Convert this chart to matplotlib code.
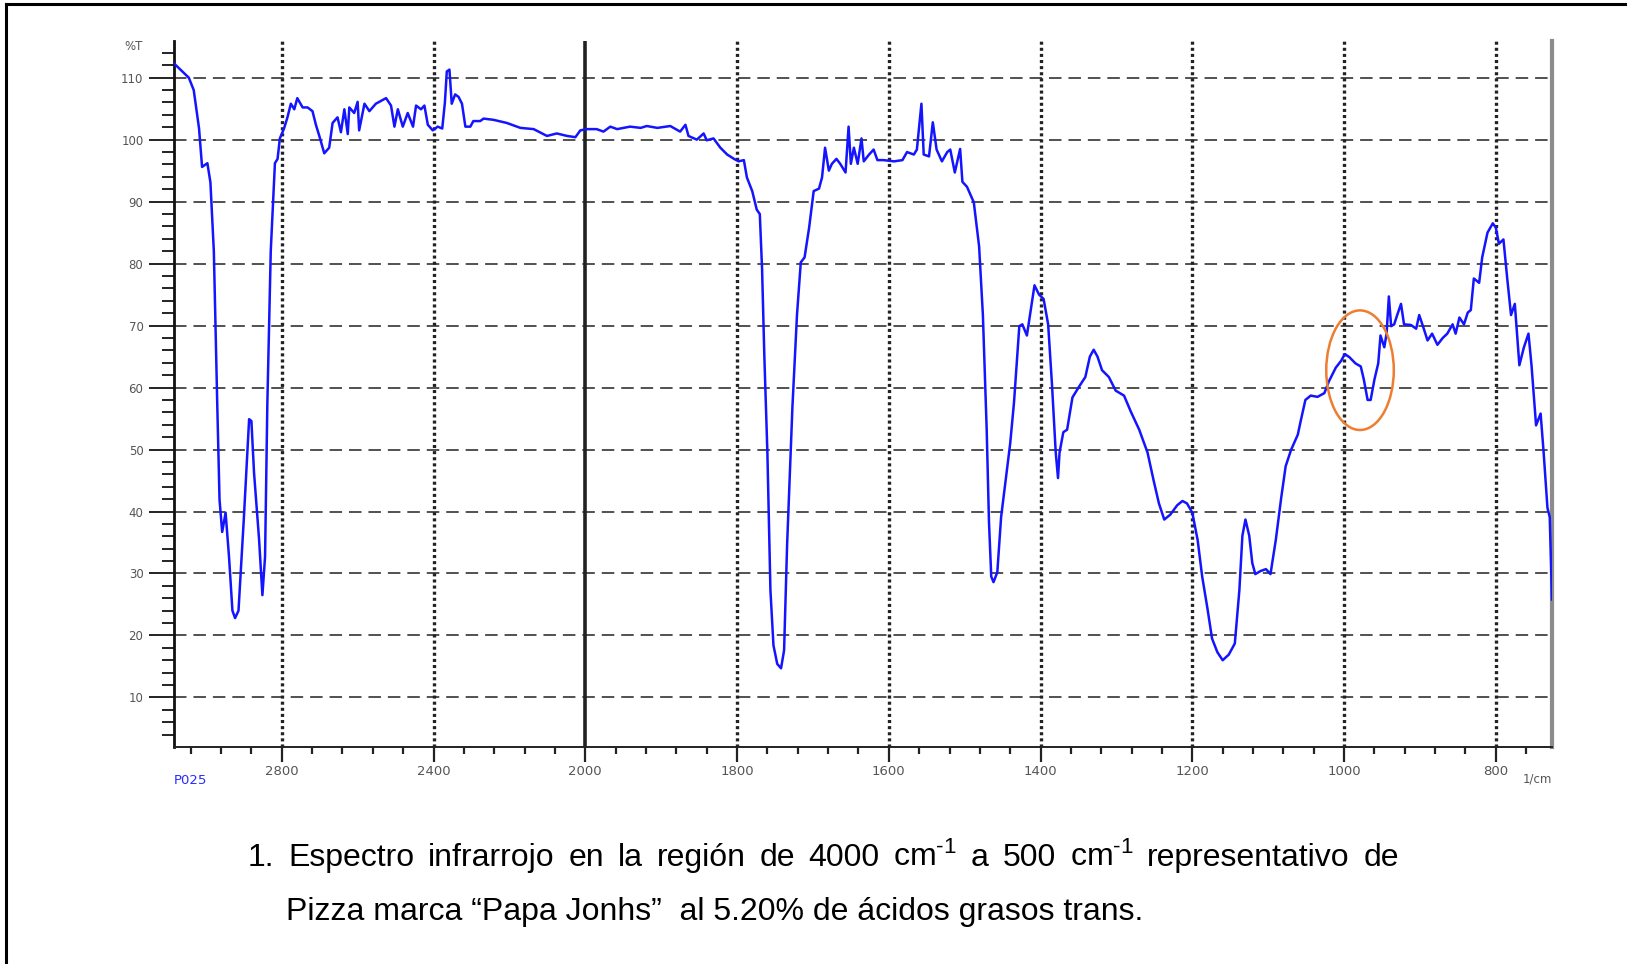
import numpy as np
import matplotlib
matplotlib.use("Agg")
import matplotlib.pyplot as plt
from matplotlib.patches import Ellipse
from matplotlib.ticker import FixedLocator, FixedFormatter
from matplotlib.lines import Line2D

plt.rcParams["lines.scale_dashes"] = False
plt.rcParams["mathtext.fontset"] = "custom"
plt.rcParams["mathtext.rm"] = "Liberation Sans"
plt.rcParams["mathtext.it"] = "Liberation Sans:italic"
plt.rcParams["mathtext.bf"] = "Liberation Sans:bold"

# IR spectrum, %T against wavenumber (1/cm)
wavenumber = [
    3084, 3045, 3032, 3018, 3010, 2996, 2988, 2979, 2970, 2964, 2957, 2948, 2939, 2930,
    2923, 2914, 2900, 2886, 2880, 2873, 2860, 2851, 2844, 2838, 2829, 2818, 2811, 2805,
    2794, 2785, 2776, 2767, 2759, 2745, 2732, 2719, 2710, 2701, 2688, 2675, 2666, 2653,
    2644, 2635, 2626, 2622, 2609, 2600, 2596, 2582, 2569, 2552, 2525, 2512, 2503, 2494,
    2481, 2468, 2454, 2446, 2433, 2424, 2415, 2402, 2389, 2377, 2370, 2365, 2358, 2352,
    2343, 2334, 2325, 2316, 2303, 2295, 2277, 2268, 2242, 2207, 2171, 2136, 2101, 2075,
    2048, 2026, 2013, 1998, 1985, 1976, 1967, 1958, 1941, 1927, 1919, 1905, 1888, 1875,
    1868, 1864, 1853, 1844, 1840, 1831, 1822, 1813, 1804, 1798, 1791, 1787, 1780, 1774,
    1770, 1767, 1764, 1760, 1756, 1752, 1747, 1742, 1738, 1734, 1727, 1721, 1716, 1711,
    1705, 1699, 1692, 1688, 1684, 1679, 1675, 1669, 1664, 1657, 1653, 1650, 1646, 1641,
    1636, 1633, 1626, 1620, 1615, 1607, 1593, 1582, 1576, 1567, 1563, 1557, 1554, 1547,
    1542, 1537, 1530, 1523, 1519, 1513, 1506, 1503, 1497, 1488, 1481, 1476, 1471, 1468,
    1465, 1462, 1457, 1452, 1446, 1440, 1435, 1428, 1424, 1418, 1412, 1408, 1402, 1396,
    1390, 1385, 1380, 1377, 1375, 1370, 1365, 1358, 1349, 1341, 1335, 1330, 1325, 1319,
    1310, 1301, 1290, 1281, 1270, 1259, 1251, 1244, 1237, 1229, 1220, 1213, 1207, 1200,
    1193, 1187, 1180, 1174, 1167, 1160, 1152, 1144, 1138, 1134, 1130, 1125, 1121, 1117,
    1110, 1103, 1097, 1090, 1083, 1077, 1070, 1061, 1057, 1051, 1044, 1035, 1026, 1020,
    1011, 1004, 999, 993, 985, 978, 974, 969, 965, 960, 955, 952, 947, 944,
    941, 938, 934, 930, 925, 921, 912, 905, 901, 895, 890, 884, 877, 870,
    864, 857, 853, 848, 842, 837, 833, 829, 822, 818, 811, 804, 800, 796,
    790, 785, 780, 775, 769, 763, 757, 753, 747, 741, 737, 732, 729, 726,
]
transmittance = [
    112.3, 110.0, 108.0, 101.8, 95.6, 96.2, 93.1, 82.0, 57.3, 41.9, 36.7, 39.8, 32.7, 24.0,
    22.8, 24.0, 38.8, 54.9, 54.6, 46.2, 35.7, 26.5, 32.7, 57.3, 82.0, 96.2, 96.9, 100.2,
    101.8, 103.6, 105.8, 104.9, 106.7, 105.2, 105.2, 104.6, 102.4, 100.6, 97.8, 98.7, 102.7, 103.6,
    101.2, 104.9, 100.9, 105.2, 104.3, 106.1, 101.5, 105.8, 104.6, 105.8, 106.7, 105.5, 102.1, 104.9,
    102.1, 104.3, 102.1, 105.5, 104.9, 105.5, 102.4, 101.5, 102.1, 101.8, 106.0, 111.0, 111.3, 105.8,
    107.3, 106.9, 105.8, 102.1, 102.1, 103.0, 103.0, 103.4, 103.2, 102.7, 101.9, 101.7, 100.6, 101.0,
    100.6, 100.4, 101.5, 101.7, 101.7, 101.3, 102.1, 101.7, 102.1, 101.9, 102.2, 101.9, 102.2, 101.3,
    102.4, 100.6, 100.0, 101.0, 99.9, 100.2, 98.7, 97.6, 96.9, 96.5, 96.7, 93.9, 91.7, 88.7,
    88.0, 79.1, 65.0, 49.5, 27.3, 18.4, 15.4, 14.7, 17.6, 34.7, 56.9, 71.7, 80.2, 81.0,
    85.8, 91.7, 92.1, 93.9, 98.7, 95.0, 96.1, 96.9, 96.1, 94.7, 102.1, 96.1, 98.7, 96.1,
    100.2, 96.5, 97.6, 98.4, 96.7, 96.7, 96.5, 96.7, 98.0, 97.6, 98.4, 105.8, 97.6, 97.3,
    102.8, 98.4, 96.5, 98.0, 98.4, 94.7, 98.5, 93.2, 92.4, 89.9, 82.8, 71.7, 53.2, 38.4,
    29.5, 28.6, 30.2, 39.1, 45.0, 51.0, 57.6, 69.9, 70.2, 68.4, 73.2, 76.5, 75.0, 74.3,
    70.2, 60.6, 49.5, 45.4, 49.5, 52.8, 53.2, 58.4, 60.2, 61.7, 65.0, 66.1, 65.0, 62.8,
    61.7, 59.5, 58.7, 56.1, 53.2, 49.5, 45.0, 41.3, 38.7, 39.5, 41.0, 41.7, 41.3, 39.8,
    35.4, 29.5, 24.3, 19.5, 17.3, 16.0, 16.9, 18.7, 27.3, 36.1, 38.7, 36.1, 31.7, 29.9,
    30.4, 30.7, 29.9, 35.4, 42.1, 47.3, 49.9, 52.4, 54.7, 58.0, 58.7, 58.5, 59.1, 61.0,
    63.2, 64.3, 65.4, 64.9, 63.9, 63.4, 61.3, 58.0, 58.0, 61.3, 63.9, 68.4, 66.5, 68.7,
    74.7, 69.9, 70.2, 71.7, 73.5, 70.2, 70.1, 69.5, 71.7, 69.5, 67.6, 68.7, 66.9, 68.0,
    68.7, 70.2, 68.7, 71.3, 70.2, 72.1, 72.5, 77.6, 76.9, 81.0, 85.0, 86.5, 85.8, 83.2,
    83.9, 77.6, 71.7, 73.5, 63.6, 66.5, 68.7, 63.6, 53.9, 55.8, 49.5, 40.6, 39.1, 25.8,
]

x_major = [2800, 2400, 2000, 1800, 1600, 1400, 1200, 1000, 800]
x_minor = [w for w in range(3040, 2000, -80) if w % 400] + [w for w in range(1960, 720, -40) if w % 200]
y_major = [10, 20, 30, 40, 50, 60, 70, 80, 90, 100, 110]
y_minor = [v for v in range(4, 116, 2) if v % 10]

# trans band marked near 966 1/cm
mark_center = (979, 62.8)
mark_size = (89, 19.3)

caption_1 = r"1. Espectro infrarrojo en la región de 4000 cm$^{\text{-1}}$ a 500 cm$^{\text{-1}}$ representativo de"
caption_2 = "Pizza marca “Papa Jonhs”  al 5.20% de ácidos grasos trans."


def fwd(w):
    w = np.asarray(w, dtype=float)
    return np.where(w > 2000, 2000 + (w - 2000) / 2.0, w)


def inv(p):
    p = np.asarray(p, dtype=float)
    return np.where(p > 2000, 2000 + (p - 2000) * 2.0, p)


W, H = 1631, 964
fig = plt.figure(figsize=(W / 100, H / 100), dpi=100)
ax = fig.add_axes([174 / W, 1 - 747 / H, (1552 - 174) / W, (747 - 40.5) / H])

ax.set_xscale("function", functions=(fwd, inv))
ax.set_xlim(3084, 726)
ax.set_ylim(2, 116)

# grid
for v in y_major:
    ax.axhline(v, color="#333333", lw=1.2, dashes=(9, 5), zorder=1)
for w in x_major:
    if w == 2000:
        ax.axvline(w, color="#222222", lw=2.6, zorder=1)
    else:
        ax.axvline(w, color="#222222", lw=2.4, dashes=(2.2, 2.2), zorder=1)

ax.plot(wavenumber, transmittance, color="#1414ff", lw=1.8, zorder=3)

ax.add_patch(Ellipse(mark_center, mark_size[0], mark_size[1], fill=False,
                     edgecolor="#ed7d31", lw=1.8, zorder=4))

ax.xaxis.set_major_locator(FixedLocator(x_major))
ax.xaxis.set_minor_locator(FixedLocator(x_minor))
ax.xaxis.set_major_formatter(FixedFormatter([str(w) for w in x_major]))
ax.yaxis.set_major_locator(FixedLocator(y_major))
ax.yaxis.set_minor_locator(FixedLocator(y_minor))
ax.yaxis.set_major_formatter(FixedFormatter([str(v) for v in y_major]))

ax.tick_params(axis="x", which="major", direction="out", length=11, width=1.6,
               color="#222222", pad=2, labelsize=9.5, labelcolor="#555555")
ax.tick_params(axis="x", which="minor", direction="out", length=5, width=1.6, color="#222222")
ax.tick_params(axis="y", which="major", direction="out", length=18, width=1.4,
               color="#222222", pad=4, labelsize=8.5, labelcolor="#555555")
ax.tick_params(axis="y", which="minor", direction="out", length=9, width=1.4, color="#222222")

ax.spines["top"].set_visible(False)
ax.spines["left"].set_color("#111111")
ax.spines["left"].set_linewidth(2.0)
ax.spines["bottom"].set_color("#222222")
ax.spines["bottom"].set_linewidth(1.4)
ax.spines["right"].set_color("#8c8c8c")
ax.spines["right"].set_linewidth(3.0)

ax.text(-0.023, 0.991, "%T", transform=ax.transAxes, ha="right", va="center",
        fontsize=8.5, color="#555555")
ax.text(0.0, -0.038, "P025", transform=ax.transAxes, ha="left", va="top",
        fontsize=9.5, color="#2a2aff")
ax.text(1.0, -0.036, "1/cm", transform=ax.transAxes, ha="right", va="top",
        fontsize=8.5, color="#555555")

# page border
fig.add_artist(Line2D([6 / W, 6 / W], [0, 1 - 4 / H], transform=fig.transFigure,
                      color="black", lw=2.2))
fig.add_artist(Line2D([6 / W, 1625 / W], [1 - 4 / H, 1 - 4 / H], transform=fig.transFigure,
                      color="black", lw=2.2))

# caption, first line justified
cap_font = dict(family="Liberation Sans", fontsize=23, color="black", va="baseline")
fig.canvas.draw()
renderer = fig.canvas.get_renderer()
words = caption_1.split(" ")
texts = [fig.text(0, 1 - 866 / H, wd, **cap_font) for wd in words]
widths = [t.get_window_extent(renderer).width for t in texts]
x0, x1 = 248, 1399
gap = (x1 - x0 - sum(widths)) / (len(words) - 1)
x = x0
for t, wd in zip(texts, widths):
    t.set_x(x / W)
    x += wd + gap
fig.text(286 / W, 1 - 920 / H, caption_2, **cap_font)

fig.savefig("out.png", dpi=100)
